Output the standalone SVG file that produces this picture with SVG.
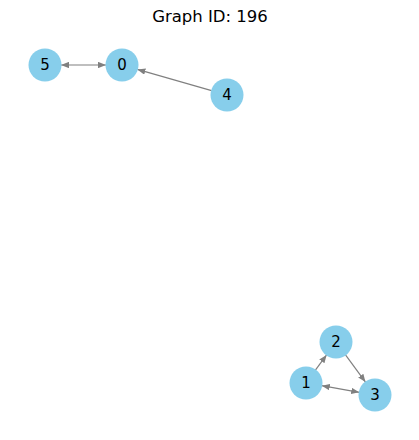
<svg xmlns="http://www.w3.org/2000/svg" width="419" height="440" viewBox="0 0 419 440">
<defs>
<marker id="arr" viewBox="0 0 10 8" refX="10" refY="4" markerWidth="8" markerHeight="6.4" markerUnits="userSpaceOnUse" orient="auto-start-reverse">
<path d="M0,0 L10,4 L0,8 Z" fill="#808080"/>
</marker>
<style>
.e{stroke:#808080;stroke-width:1.2;fill:none}
.n circle{fill:#87ceeb}
.n text{font-family:"DejaVu Sans",sans-serif;font-size:15px;fill:#000;text-anchor:middle;dominant-baseline:central}
.t{font-family:"DejaVu Sans",sans-serif;font-size:16.5px;fill:#000;text-anchor:middle}
</style>
</defs>
<rect width="419" height="440" fill="#fff"/>
<text class="t" x="210" y="22">Graph ID: 196</text>
<g id="edges">
<line class="e" x1="61" y1="65" x2="106" y2="65" marker-start="url(#arr)" marker-end="url(#arr)"/>
<line class="e" x1="211.6" y1="90.6" x2="137.4" y2="69.4" marker-end="url(#arr)"/>
<line class="e" x1="315.4" y1="370.1" x2="326.6" y2="354.9" marker-end="url(#arr)"/>
<line class="e" x1="345.5" y1="354.9" x2="365.5" y2="382.1" marker-end="url(#arr)"/>
<line class="e" x1="321.8" y1="385.7" x2="359.2" y2="392.3" marker-start="url(#arr)" marker-end="url(#arr)"/>
</g>
<g id="node5" class="n"><circle cx="45" cy="65" r="16.5"/><text x="45" y="65">5</text></g>
<g id="node0" class="n"><circle cx="122" cy="65" r="16.5"/><text x="122" y="65">0</text></g>
<g id="node4" class="n"><circle cx="227" cy="95" r="16.5"/><text x="227" y="95">4</text></g>
<g id="node2" class="n"><circle cx="336" cy="342" r="16.5"/><text x="336" y="342">2</text></g>
<g id="node1" class="n"><circle cx="306" cy="383" r="16.5"/><text x="306" y="383">1</text></g>
<g id="node3" class="n"><circle cx="375" cy="395" r="16.5"/><text x="375" y="395">3</text></g>
</svg>
